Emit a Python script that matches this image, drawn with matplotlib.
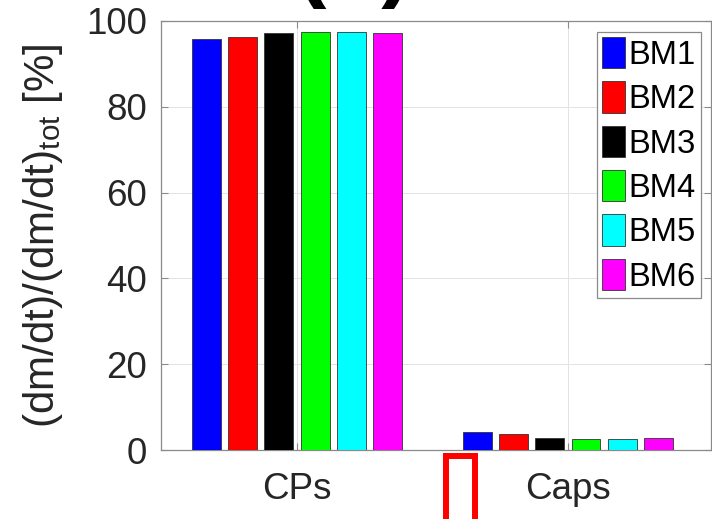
import matplotlib
matplotlib.use("Agg")
import matplotlib.pyplot as plt
from matplotlib.lines import Line2D
import numpy as np

plt.rcParams['font.family'] = ['Liberation Sans', 'DejaVu Sans']
plt.rcParams['mathtext.default'] = 'regular'

# Share of mass loss rate per region, for each building model
categories = ["CPs", "Caps"]
series_names = ["BM1", "BM2", "BM3", "BM4", "BM5", "BM6"]
values = {
    "BM1": [95.9, 4.1],
    "BM2": [96.3, 3.7],
    "BM3": [97.3, 2.7],
    "BM4": [97.5, 2.5],
    "BM5": [97.4, 2.6],
    "BM6": [97.3, 2.7],
}
colors = ["#0000ff", "#ff0000", "#000000", "#00ff00", "#00ffff", "#ff00ff"]
y_ticks = [0, 20, 40, 60, 80, 100]

W, H = 712, 519
fig = plt.figure(figsize=(W / 100, H / 100), dpi=100)
ax = fig.add_axes([161 / W, 1 - 450 / H, 550 / W, 429 / H])

x = np.arange(1, len(categories) + 1)
step = 0.1333
width = 0.107
n = len(series_names)
for i, (name, c) in enumerate(zip(series_names, colors)):
    ax.bar(x + (i - (n - 1) / 2) * step, values[name], width=width, color=c,
           edgecolor="#333333", linewidth=0.6, label=name, zorder=3)

ax.set_xlim(0.498, 2.528)
ax.set_ylim(0, 100)
ax.set_xticks(x)
ax.set_xticklabels(categories)
ax.set_yticks(y_ticks)

ax.grid(True, color="#e3e3e3", linewidth=0.7, zorder=0)
ax.set_axisbelow(True)
for s in ax.spines.values():
    s.set_color("#8a8a8a")
    s.set_linewidth(0.9)
ax.tick_params(direction="in", length=5, width=0.8, color="#8a8a8a",
               labelsize=26.5, labelcolor="#262626", pad=10,
               top=True, right=True)
ax.tick_params(axis="x", pad=16)

ax.set_ylabel("(dm/dt)/(dm/dt)$_{tot}$ [%]", fontsize=30.3, color="#262626")
ax.yaxis.set_label_coords(-0.1745, 0.5)

leg = ax.legend(loc="upper right", bbox_to_anchor=((701 - 161) / 550, (450 - 32) / 429),
                borderaxespad=0, fontsize=23.6, frameon=True, fancybox=False,
                framealpha=1, edgecolor="#8a8a8a", handlelength=0.72,
                handleheight=1.1, handletextpad=0.1, labelspacing=0.32,
                borderpad=0.15)
leg.get_frame().set_linewidth(0.9)
for t in leg.get_texts():
    t.set_color("#000000")

# panel label at the top, mostly above the figure edge
fig.text(354 / W, 1 + 10 / H, "(b)", fontsize=66, fontweight="bold", ha="center",
         va="baseline", color="#000000")

# red highlight frame below the axis
px = [446, 446, 475, 475]
py = [530, 456, 456, 530]
fig.add_artist(Line2D([p / W for p in px], [1 - q / H for q in py],
                      transform=fig.transFigure, color="#ff0000", linewidth=4.3,
                      solid_joinstyle="miter", solid_capstyle="butt"))

fig.savefig("out.png", dpi=100)
